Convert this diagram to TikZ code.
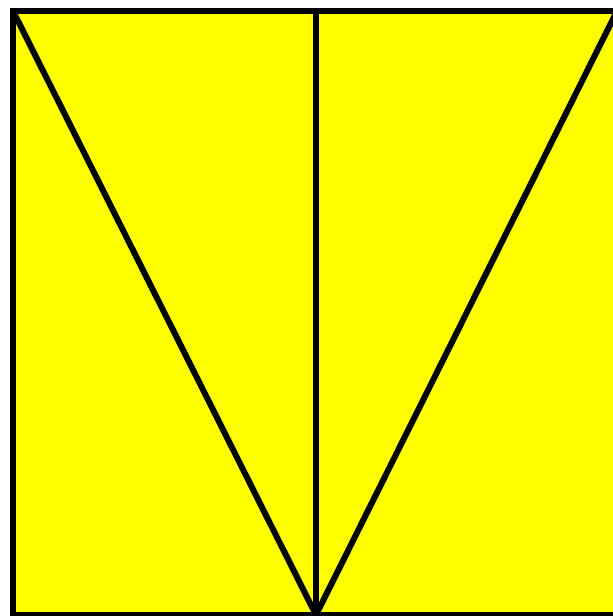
\documentclass[tikz,border=0pt]{standalone}
\usepackage{tikz}
\usetikzlibrary{positioning}
\definecolor{panelyellow}{HTML}{FFFF00}

\begin{document}
\begin{tikzpicture}[x=1pt,y=1pt,
  edge/.style={line width=6pt,black,line cap=butt,line join=miter}]
  \useasboundingbox (0,0) rectangle (613,616);
  \clip (0,0) rectangle (613,616);
  \coordinate (tl) at (13,605);
  \coordinate (tr) at (617,605);
  \coordinate (bl) at (13,1);
  \coordinate (br) at (617,1);
  \coordinate (tm) at (316,605);
  \coordinate (bm) at (316,1);
  \fill[panelyellow] (tl) rectangle (br);
  \draw[edge] (tl) -- (bm) -- (tr);
  \draw[edge] (tm) -- (bm);
  \draw[edge] (tl) rectangle (br);
\end{tikzpicture}
\end{document}
